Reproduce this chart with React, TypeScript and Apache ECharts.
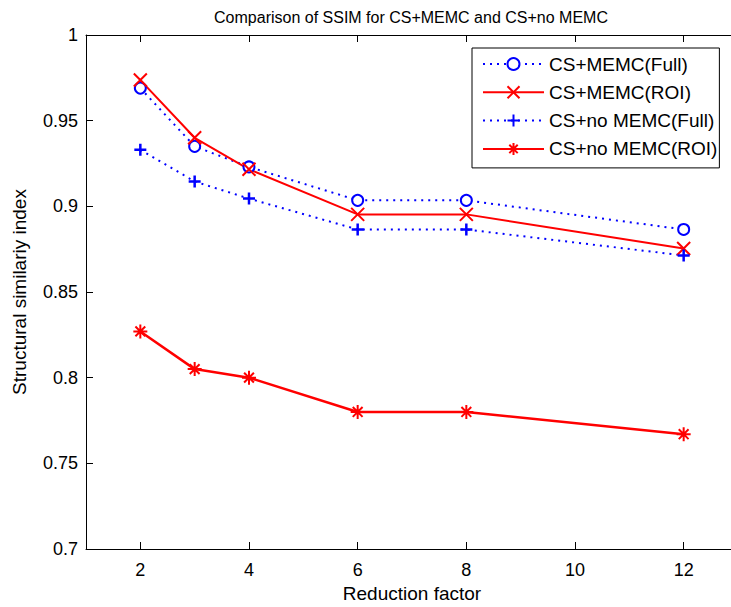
import React, { useEffect, useRef } from "react";
import * as echarts from "echarts";

const reductionFactors = [2, 3, 4, 6, 8, 12];
const memcFull = [0.969, 0.935, 0.923, 0.9035, 0.9035, 0.8865];
const memcRoi = [0.9737, 0.94, 0.9216, 0.8953, 0.8953, 0.8754];
const noMemcFull = [0.933, 0.9145, 0.9045, 0.8865, 0.8865, 0.8713];
const noMemcRoi = [0.827, 0.805, 0.8, 0.78, 0.78, 0.767];
const xTicks = [2, 4, 6, 8, 10, 12];
const seriesNames = [
  "CS+MEMC(Full)",
  "CS+MEMC(ROI)",
  "CS+no MEMC(Full)",
  "CS+no MEMC(ROI)",
];

const FONT = "'Liberation Sans', Arial, Helvetica, sans-serif";
const BLUE = "#0000ff";
const RED = "#ff0000";

const CROSS = "path://M0,0L10,10M10,0L0,10";
const PLUS = "path://M0,5L10,5M5,0L5,10";
const STAR = "path://M0,5L10,5M5,0L5,10M1.5,1.5L8.5,8.5M8.5,1.5L1.5,8.5";

function pairs(vals: number[]) {
  return reductionFactors.map((x, i) => [x, vals[i]]);
}

export default function App() {
  const ref = useRef<HTMLDivElement>(null);
  useEffect(() => {
    if (!ref.current) return;
    const chart = echarts.init(ref.current, null, { renderer: "svg" });
    const axisLine = { show: true, lineStyle: { color: "#000", width: 1 } };
    const tick = {
      show: true,
      inside: true,
      length: 7,
      lineStyle: { color: "#000", width: 1 },
      customValues: xTicks,
    };
    chart.setOption({
      animation: false,
      backgroundColor: "#fff",
      title: {
        text: "Comparison of SSIM for CS+MEMC and CS+no MEMC",
        left: 406,
        top: 4,
        textAlign: "center",
        textStyle: { fontFamily: FONT, fontSize: 16, fontWeight: "normal", color: "#000" },
      },
      legend: {
        orient: "vertical",
        left: 472,
        top: 48,
        padding: [6, 2, 9, 10],
        itemGap: 8.3,
        itemWidth: 61,
        itemHeight: 15,
        backgroundColor: "#fff",
        borderColor: "#000",
        borderWidth: 1,
        borderRadius: 0,
        textStyle: { fontFamily: FONT, fontSize: 19, color: "#000", lineHeight: 20 },
        data: seriesNames,
      },
      grid: {
        left: 86,
        top: 35,
        height: 514,
        width: 652,
        containLabel: false,
        outerBoundsMode: "none",
      },
      xAxis: [
        {
          type: "value",
          min: 1,
          max: 13,
          position: "bottom",
          axisLine,
          axisTick: tick,
          splitLine: { show: false },
          axisLabel: {
            customValues: xTicks,
            fontFamily: FONT,
            fontSize: 18,
            color: "#000",
            margin: 12,
          },
          name: "Reduction factor",
          nameLocation: "middle",
          nameGap: 34,
          nameTextStyle: { fontFamily: FONT, fontSize: 19, color: "#000" },
        },
        {
          type: "value",
          min: 1,
          max: 13,
          position: "top",
          axisLine,
          axisTick: tick,
          splitLine: { show: false },
          axisLabel: { show: false },
        },
      ],
      yAxis: [
        {
          type: "value",
          min: 0.7,
          max: 1,
          interval: 0.05,
          position: "left",
          axisLine,
          axisTick: { show: true, inside: true, length: 7, lineStyle: { color: "#000" } },
          splitLine: { show: false },
          axisLabel: { fontFamily: FONT, fontSize: 18, color: "#000", margin: 8 },
          name: "Structural similariy index",
          nameLocation: "middle",
          nameGap: 57,
          nameTextStyle: { fontFamily: FONT, fontSize: 19, color: "#000" },
        },
        {
          type: "value",
          min: 0.7,
          max: 1,
          interval: 0.05,
          position: "right",
          axisLine,
          axisTick: { show: true, inside: true, length: 7, lineStyle: { color: "#000" } },
          splitLine: { show: false },
          axisLabel: { show: false },
        },
      ],
      series: [
        {
          name: seriesNames[0],
          type: "line",
          data: pairs(memcFull),
          symbol: "emptyCircle",
          symbolSize: 11,
          lineStyle: { color: BLUE, width: 2, type: [2, 5] },
          itemStyle: { color: BLUE, borderColor: BLUE, borderWidth: 2 },
        },
        {
          name: seriesNames[1],
          type: "line",
          data: pairs(memcRoi),
          symbol: CROSS,
          symbolSize: 13,
          lineStyle: { color: RED, width: 2 },
          itemStyle: { color: RED, borderColor: RED, borderWidth: 2 },
        },
        {
          name: seriesNames[2],
          type: "line",
          data: pairs(noMemcFull),
          symbol: PLUS,
          symbolSize: 12,
          lineStyle: { color: BLUE, width: 2, type: [2, 5] },
          itemStyle: { color: BLUE, borderColor: BLUE, borderWidth: 2.5 },
        },
        {
          name: seriesNames[3],
          type: "line",
          data: pairs(noMemcRoi),
          symbol: STAR,
          symbolSize: 14,
          lineStyle: { color: RED, width: 2.5 },
          itemStyle: { color: RED, borderColor: RED, borderWidth: 2 },
        },
      ],
    });
    return () => chart.dispose();
  }, []);
  return (
    <div
      ref={ref}
      style={{ position: "absolute", left: 0, top: 0, width: 731, height: 607, background: "#fff" }}
    />
  );
}
